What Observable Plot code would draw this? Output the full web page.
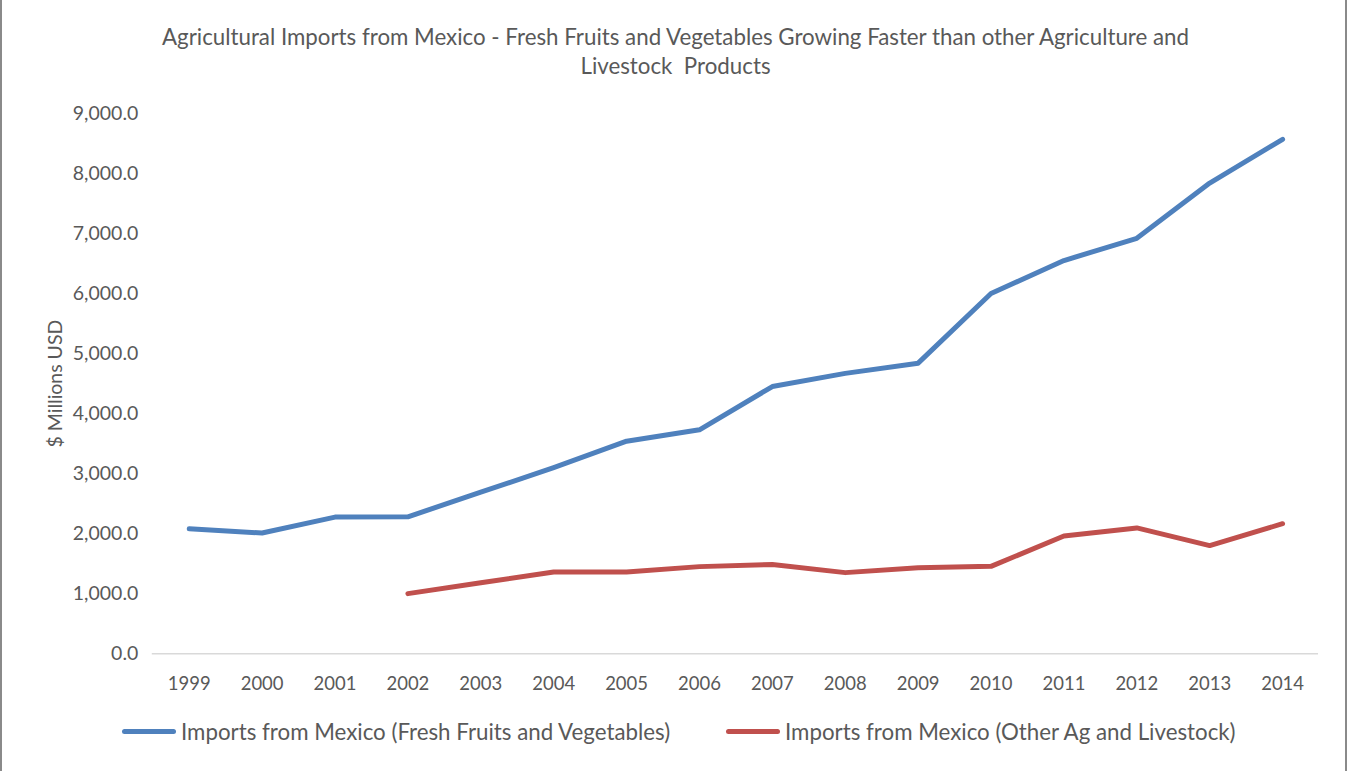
<!DOCTYPE html>
<html>
<head>
<meta charset="utf-8">
<script src="https://cdn.jsdelivr.net/npm/d3@7"></script>
<script src="https://cdn.jsdelivr.net/npm/@observablehq/plot@0.6"></script>
<style>
  html, body { margin: 0; padding: 0; background: #fff; }
  #wrap { position: relative; width: 1347px; height: 771px; box-sizing: border-box;
          border-left: 2px solid #8a8a8a; border-right: 2px solid #8a8a8a; font-family: Lato, "Open Sans", sans-serif; color: #595959; overflow: hidden; }
  #title { position: absolute; top: 22px; left: 0; width: 1347px; text-align: center; font-size: 22.3px; line-height: 29px; color: #595959; }
  #chart { position: absolute; top: 90px; left: -2px; }
  .leg { position: absolute; top: 718px; font-size: 22.3px; color: #595959; display: flex; align-items: center; white-space: nowrap; }
  .sw { display: inline-block; width: 54px; height: 5px; border-radius: 3px; margin-right: 5px; }
</style>
</head>
<body>
<div id="wrap">
  <div id="title">Agricultural Imports from Mexico - Fresh Fruits and Vegetables Growing Faster than other Agriculture and<br>Livestock&nbsp; Products</div>
  <div id="chart"></div>
  <div class="leg" style="left:120px"><span class="sw" style="background:#4F81BD"></span><span id="l1"></span></div>
  <div class="leg" style="left:724px"><span class="sw" style="background:#C0504D"></span><span id="l2"></span></div>
</div>
<script>
const years = ["1999","2000","2001","2002","2003","2004","2005","2006","2007","2008","2009","2010","2011","2012","2013","2014"];
const freshFV = [2080, 2010, 2275, 2280, 2690, 3100, 3540, 3730, 4450, 4670, 4840, 6000, 6550, 6920, 7840, 8570];
const otherAg = [null, null, null, 1000, 1180, 1360, 1360, 1450, 1485, 1350, 1430, 1455, 1960, 2095, 1800, 2165];
const seriesNames = ["Imports from Mexico (Fresh Fruits and Vegetables)", "Imports from Mexico (Other Ag and Livestock)"];
const colors = ["#4F81BD", "#C0504D"];
const yTicks = [0, 1000, 2000, 3000, 4000, 5000, 6000, 7000, 8000, 9000];

document.getElementById("l1").textContent = seriesNames[0];
document.getElementById("l2").textContent = seriesNames[1];

const rows = [];
years.forEach((yr, i) => {
  rows.push({year: yr, value: freshFV[i], series: seriesNames[0]});
  rows.push({year: yr, value: otherAg[i], series: seriesNames[1]});
});

const chart = Plot.plot({
  width: 1347,
  height: 620,
  marginTop: 23,
  marginBottom: 56,
  marginLeft: 152,
  marginRight: 27,
  style: { fontFamily: "Lato, 'Open Sans', sans-serif", fontSize: "18px", color: "#595959", background: "transparent" },
  x: { type: "point", domain: years, padding: 0.5 },
  y: { domain: [0, 9000] },
  color: { domain: seriesNames, range: colors },
  marks: [
    Plot.ruleY([0], { stroke: "#d9d9d9", strokeWidth: 1.5 }),
    Plot.axisX({ tickSize: 0, tickPadding: 23, label: null, fontSize: 18.5 }),
    Plot.axisY({ ticks: yTicks, tickSize: 0, tickPadding: 14, tickFormat: d3.format(",.1f"), fontSize: 19.5,
                 label: "$ Millions USD", labelAnchor: "center", labelArrow: "none", labelOffset: 104 }),
    Plot.line(rows, { x: "year", y: "value", z: "series", stroke: "series", strokeWidth: 5,
                      strokeLinecap: "round", strokeLinejoin: "round", defined: d => d.value != null })
  ]
});
document.getElementById("chart").appendChild(chart);
</script>
</body>
</html>
